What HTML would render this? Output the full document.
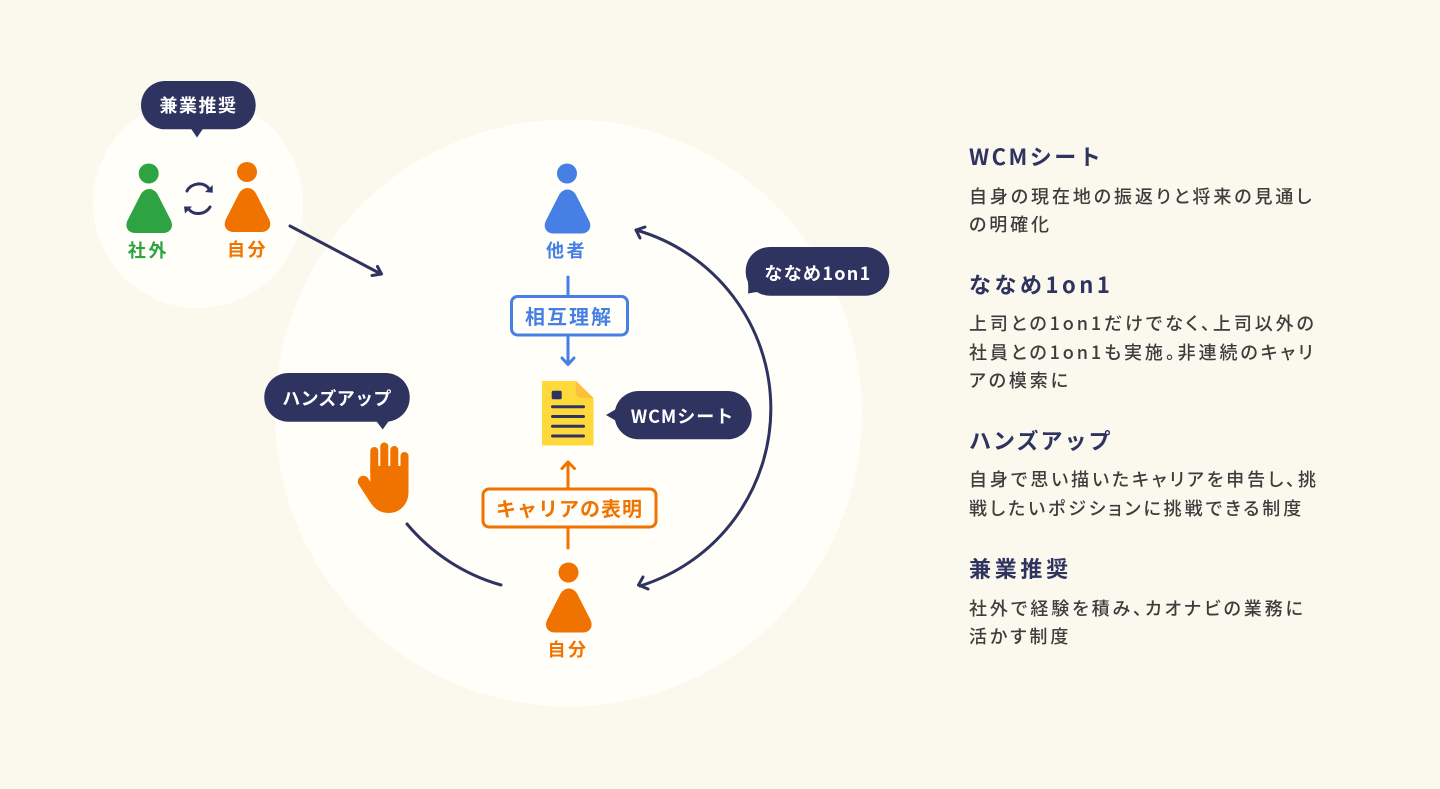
<!DOCTYPE html>
<html lang="ja">
<head>
<meta charset="utf-8">
<title>diagram</title>
<style>
html,body{margin:0;padding:0;background:#fbf8ee}
svg{display:block}
text{font-family:"Liberation Sans","Noto Sans CJK JP",sans-serif}
.cjk{font-family:"Noto Sans CJK JP","Liberation Sans",sans-serif}
.b{font-weight:700;text-anchor:middle;font-size:18px;letter-spacing:1.5px}
.w{fill:#fff}
.t{font-weight:700;font-size:22px;letter-spacing:2.500px;fill:#2e3360}
.d{font-weight:500;font-size:18px;letter-spacing:2.900px;fill:#3d3d3d;font-feature-settings:"palt"}
.n{fill:none;stroke:#2e3360;stroke-width:3;stroke-linecap:round;stroke-linejoin:round}
</style>
</head>
<body>
<svg width="1440" height="789" viewBox="0 0 1440 789" xmlns="http://www.w3.org/2000/svg">
<rect width="1440" height="789" fill="#fbf8ee"/>
<circle cx="198" cy="203" r="105" fill="#fffef9"/>
<circle cx="568.5" cy="413" r="293.5" fill="#fffef9"/>

<!-- connectors -->
<path class="n" d="M290 226L381 274M377.5 266.5L381.5 274L372 275.5"/>
<path class="n" d="M636 230A185.700 185.700 0 0 1 640 586"/>
<path class="n" d="M645 227L636 230L640 238M643 577L638.500 585L648 589"/>
<path class="n" d="M407 524A190 190 0 0 0 501 585"/>

<!-- sync -->
<path fill="none" stroke="#2e3360" stroke-width="3" stroke-linecap="round" d="M187 191C191 183 204 181 209 189M210 207C205 215 193 216 188 208"/>
<path fill="#2e3360" d="M212.700 192.700L212.700 185L205 192ZM184 206.500L192 206.500L185 213.500Z"/>

<!-- people -->
<g fill="#2ea342"><circle cx="148.700" cy="173.500" r="10"/><path transform="translate(149.200 189)" d="M0 0C3.500 0 6.500 2 8.500 5.500L21.500 31C25 38 21 44 14 44H-14C-21 44 -25 38 -21.500 31L-8.500 5.500C-6.500 2 -3.500 0 0 0Z"/></g>
<g fill="#f07300"><circle cx="247" cy="172" r="10"/><path transform="translate(247.500 188)" d="M0 0C3.500 0 6.500 2 8.500 5.500L21.500 31C25 38 21 44 14 44H-14C-21 44 -25 38 -21.500 31L-8.500 5.500C-6.500 2 -3.500 0 0 0Z"/></g>
<g fill="#4680e4"><circle cx="567" cy="173.500" r="10"/><path transform="translate(567.500 189.500)" d="M0 0C3.500 0 6.500 2 8.500 5.500L21.500 31C25 38 21 44 14 44H-14C-21 44 -25 38 -21.500 31L-8.500 5.500C-6.500 2 -3.500 0 0 0Z"/></g>
<g fill="#f07300"><circle cx="568.500" cy="572.500" r="10"/><path transform="translate(568.800 588.500)" d="M0 0C3.500 0 6.500 2 8.500 5.500L21.500 31C25 38 21 44 14 44H-14C-21 44 -25 38 -21.500 31L-8.500 5.500C-6.500 2 -3.500 0 0 0Z"/></g>

<text x="148.500" y="257" class="cjk" text-anchor="middle" font-weight="700" font-size="18" letter-spacing="2.800" fill="#2ea342">社外</text>
<text x="247.500" y="256" class="cjk" text-anchor="middle" font-weight="700" font-size="18" letter-spacing="2.500" fill="#f07300">自分</text>
<text x="566.500" y="257" class="cjk" text-anchor="middle" font-weight="700" font-size="18" letter-spacing="2.500" fill="#4680e4">他者</text>
<text x="568" y="656" class="cjk" text-anchor="middle" font-weight="700" font-size="18" letter-spacing="2.500" fill="#f07300">自分</text>

<!-- blue connector -->
<path fill="none" stroke="#4680e4" stroke-width="3" stroke-linecap="round" stroke-linejoin="round" d="M568 277V296M568 336V364M562 358L568 364.500L574 358"/>
<rect x="511.500" y="296.500" width="116" height="38.500" rx="6" fill="#fffef9" stroke="#4680e4" stroke-width="3"/>
<text x="569" y="324" class="cjk" text-anchor="middle" font-weight="700" font-size="20" letter-spacing="2" fill="#4680e4">相互理解</text>

<!-- orange connector -->
<path fill="none" stroke="#f07300" stroke-width="3" stroke-linejoin="round" stroke-linecap="round" d="M568 548V527M568 488V462M562 468.500L568 462L574.500 468.500"/>
<rect x="483" y="489" width="173" height="38" rx="6" fill="#fffef9" stroke="#f07300" stroke-width="3"/>
<text x="569.500" y="516" class="cjk" text-anchor="middle" font-weight="700" font-size="20" letter-spacing="1" fill="#f07300">キャリアの表明</text>

<!-- document -->
<path d="M542 381H576L593.500 398V445.500H542Z" fill="#ffd83a"/>
<path d="M576 381L593.500 398H582Q576 398 576 392Z" fill="#fdbf3c"/>
<rect x="551.700" y="390.700" width="10" height="8.500" rx="1.500" fill="#2e3360"/>
<path d="M552.500 406.700H583.500M552.500 416.500H583.500M552.500 426.300H583.500M552.500 436H583.500" stroke="#2e3360" stroke-width="3" stroke-linecap="round"/>

<!-- hand -->
<g fill="#f07300">
<path d="M370.300 466H408.500V492C408.500 505 399 513 389 513C380 513 374.500 509 370 502L359 485A5.500 5.500 0 0 1 368 478L370.300 482Z"/>
<g stroke="#f07300" stroke-width="8" stroke-linecap="round" fill="none">
<path d="M374.300 451V472M384.300 446.500V472M394.300 450V472M404.500 456V472"/>
</g>
</g>

<!-- bubbles -->
<g fill="#2e3360">
<rect x="141" y="81" width="114.700" height="48.300" rx="24"/>
<path d="M190.500 128L197 137.500L203.500 128Z"/>
<rect x="264.300" y="373" width="145.400" height="48.700" rx="24"/>
<path d="M375.500 420L382.700 429.500L389.500 420Z"/>
<rect x="614.500" y="391" width="137.200" height="48.300" rx="24"/>
<path d="M618 408L606 415L618 422Z"/>
<rect x="745.700" y="247" width="143.600" height="48.700" rx="24"/>
<path d="M746.500 272Q749 285 748 293.500Q756 292 765 291Z"/>
</g>
<text x="198.500" y="112" class="cjk b w">兼業推奨</text>
<text x="337" y="405" class="cjk b w" style="letter-spacing:.3px">ハンズアップ</text>
<text x="682.500" y="423" class="cjk b w" style="letter-spacing:1px">WCMシート</text>
<text x="818" y="280" class="cjk b w" style="letter-spacing:1.300px">ななめ1on1</text>

<!-- right text -->
<text x="969" y="165" class="cjk t">WCMシート</text>
<text x="969" y="203" class="cjk d">自身の現在地の振返りと将来の見通し</text>
<text x="969" y="231" class="cjk d">の明確化</text>

<text x="969" y="293" class="cjk t" style="letter-spacing:3.500px">ななめ1on1</text>
<text x="969" y="330" class="cjk d">上司との1on1だけでなく、上司以外の</text>
<text x="969" y="359" class="cjk d">社員との1on1も実施。非連続のキャリ</text>
<text x="969" y="387" class="cjk d">アの模索に</text>

<text x="969" y="449" class="cjk t" style="letter-spacing:2px">ハンズアップ</text>
<text x="969" y="486" class="cjk d">自身で思い描いたキャリアを申告し、挑</text>
<text x="969" y="515" class="cjk d">戦したいポジションに挑戦できる制度</text>

<text x="969" y="577" class="cjk t" style="letter-spacing:3.700px">兼業推奨</text>
<text x="969" y="615" class="cjk d">社外で経験を積み、カオナビの業務に</text>
<text x="969" y="643" class="cjk d">活かす制度</text>
</svg>
</body>
</html>
